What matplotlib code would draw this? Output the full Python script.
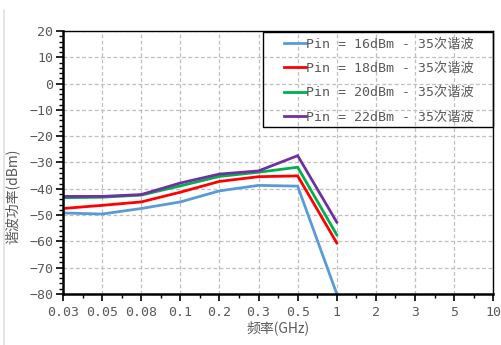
import matplotlib
matplotlib.use("Agg")
import matplotlib.pyplot as plt
from matplotlib.ticker import MultipleLocator, FixedLocator
from matplotlib.lines import Line2D
from matplotlib.patches import Rectangle

plt.rcParams['font.family'] = ['DejaVu Sans Mono', 'Noto Sans CJK SC']

freq_labels = ['0.03', '0.05', '0.08', '0.1', '0.2', '0.3', '0.5', '1', '2', '3', '5', '10']
pin16 = [-49.2, -49.6, -47.5, -45.0, -40.8, -38.7, -39.0, -80.0]
pin18 = [-47.5, -46.3, -45.0, -41.3, -37.2, -35.4, -35.1, -60.6]
pin20 = [-43.4, -43.2, -42.4, -38.9, -35.3, -33.7, -31.8, -57.5]
pin22 = [-42.9, -42.9, -42.2, -37.8, -34.4, -33.2, -27.4, -52.7]
series_labels = ['Pin = 16dBm - 35次谐波', 'Pin = 18dBm - 35次谐波',
                 'Pin = 20dBm - 35次谐波', 'Pin = 22dBm - 35次谐波']
colors = ['#5B9BD5', '#FF0000', '#00B050', '#7030A0']

text_color = '#595959'

fig = plt.figure(figsize=(5.02, 3.45), dpi=100)
ax = fig.add_axes([0.1255, 0.148, 0.857, 0.762])

for ys, lab, c in zip([pin16, pin18, pin20, pin22], series_labels, colors):
    ax.plot(range(len(ys)), ys, color=c, lw=2, label=lab, solid_joinstyle='miter')

ax.set_xlim(0, len(freq_labels) - 1)
ax.set_ylim(-80, 20)
ax.set_xticks(range(len(freq_labels)))
ax.set_xticklabels(freq_labels)
ax.xaxis.set_minor_locator(FixedLocator([i + 0.5 for i in range(len(freq_labels) - 1)]))
ax.yaxis.set_major_locator(MultipleLocator(10))
ax.yaxis.set_minor_locator(MultipleLocator(2))

ax.grid(True, which='major', color='#BFBFBF', ls=(0, (3, 2)), lw=0.9)
ax.set_axisbelow(True)

for s in ['left', 'bottom']:
    ax.spines[s].set_linewidth(1.8)
for s in ['top', 'right']:
    ax.spines[s].set_linewidth(1.0)
for s in ax.spines.values():
    s.set_color('black')

ax.tick_params(axis='both', which='major', direction='out', length=5, width=1.2,
               labelsize=9.5, labelcolor=text_color, color='black')
ax.tick_params(axis='both', which='minor', direction='out', length=3, width=1.0, color='black')
ax.tick_params(axis='x', which='major', pad=4)
ax.tick_params(axis='y', which='major', pad=2)
ax.tick_params(top=False, right=False, which='both')

ax.set_xlabel('频率(GHz)', color=text_color, fontsize=10, labelpad=1,
              family=['Noto Sans CJK SC'])
ax.set_ylabel('谐波功率(dBm)', color=text_color, fontsize=10,
              family=['Noto Sans CJK SC'])
ax.yaxis.set_label_coords(-0.1, 0.37)

# legend: transparent background, grid shows through, plain black box
leg = ax.legend(loc='upper left', bbox_to_anchor=(0.513, 0.975),
                frameon=False, handlelength=1.7, handletextpad=0.0, borderpad=0,
                borderaxespad=0, labelspacing=0.86, labelcolor=text_color,
                prop={'family': ['DejaVu Sans Mono', 'Noto Sans CJK SC'], 'size': 9.5})
ax.add_patch(Rectangle((0.465, 0.635), 0.535, 0.361, transform=ax.transAxes,
                       fill=False, edgecolor='black', lw=1.0, zorder=5, clip_on=False))

fig.add_artist(Line2D([0.008, 0.008], [0.0, 0.97], transform=fig.transFigure,
                      color='#E0E0E0', lw=1.2))

fig.savefig('out.png', dpi=100)
